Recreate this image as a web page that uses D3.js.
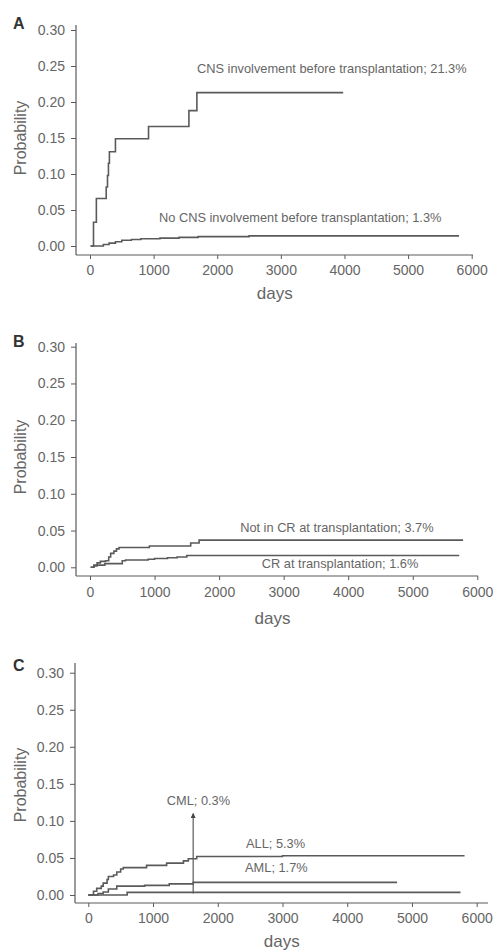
<!DOCTYPE html>
<html>
<head>
<meta charset="utf-8">
<script src="https://cdn.jsdelivr.net/npm/d3@7"></script>
<style>
  body { margin: 0; background: #fff; }
  svg { display: block; font-family: "Liberation Sans", Arial, sans-serif; }
</style>
</head>
<body>
<svg id="chart" width="495" height="951"></svg>
<script>
// ticks
var xTicks = [0, 1000, 2000, 3000, 4000, 5000, 6000];
var yTicks = [0, 0.05, 0.10, 0.15, 0.20, 0.25, 0.30];

// panel A: [days, probability], step after
var cnsBefore = [[10, 0], [55, 0.033], [100, 0.066], [255, 0.082], [275, 0.098], [290, 0.115],
  [305, 0.131], [400, 0.149], [920, 0.166], [1555, 0.188], [1680, 0.213], [3980, 0.213]];
var noCnsBefore = [[10, 0], [210, 0.002], [300, 0.004], [400, 0.006], [500, 0.008], [650, 0.009],
  [800, 0.010], [1100, 0.011], [1400, 0.012], [1700, 0.013], [2500, 0.014], [5800, 0.014]];

// panel B
var notInCR = [[10, 0], [60, 0.003], [110, 0.006], [160, 0.008], [240, 0.009], [290, 0.014],
  [320, 0.019], [370, 0.022], [410, 0.025], [450, 0.027], [920, 0.029], [1560, 0.033],
  [1690, 0.037], [5780, 0.037]];
var inCR = [[10, 0], [60, 0.002], [110, 0.003], [230, 0.005], [500, 0.009], [550, 0.010],
  [900, 0.011], [1000, 0.012], [1200, 0.013], [1350, 0.014], [1500, 0.016], [5720, 0.016]];

// panel C
var allSeries = [[0, 0], [80, 0.005], [130, 0.009], [200, 0.012], [230, 0.016], [290, 0.021],
  [310, 0.025], [390, 0.027], [440, 0.031], [500, 0.035], [540, 0.037], [900, 0.040],
  [1210, 0.043], [1470, 0.046], [1545, 0.049], [1675, 0.052], [3000, 0.053], [5800, 0.054]];
var amlSeries = [[0, 0], [150, 0.002], [230, 0.004], [310, 0.008], [440, 0.012], [870, 0.013],
  [1250, 0.015], [1620, 0.017], [4770, 0.017]];
var cmlSeries = [[0, 0], [600, 0.0035], [5750, 0.0035]];
var cmlArrow = [[1620, 0.002], [1620, 0.110]];

// labels: text, day, probability (vertical centre)
var labelsA = [["CNS involvement before transplantation; 21.3%", 1682, 0.247],
  ["No CNS involvement before transplantation; 1.3%", 1085, 0.040]];
var labelsB = [["Not in CR at transplantation; 3.7%", 2326, 0.0543],
  ["CR at transplantation; 1.6%", 2662, 0.0045]];
var labelsC = [["CML; 0.3%", 1212, 0.127], ["ALL; 5.3%", 2437, 0.0698], ["AML; 1.7%", 2422, 0.0374]];

var panels = [
  { letter: "A", series: [cnsBefore, noCnsBefore], labels: labelsA,
    x0: 90, x1: 471.7, yZero: 246, yTop: 30, axisX: 76, axisY: 255, yAxisTop: 25, xAxisEnd: 473,
    letterY: 28.5, probY: 138, daysX: 274.7, daysY: 299, tickY: 275 },
  { letter: "B", series: [notInCR, inCR], labels: labelsB,
    x0: 90, x1: 477.3, yZero: 567.3, yTop: 346.7, axisX: 76, axisY: 576, yAxisTop: 343, xAxisEnd: 478,
    letterY: 346.7, probY: 457, daysX: 272.5, daysY: 623.5, tickY: 597 },
  { letter: "C", series: [allSeries, amlSeries, cmlSeries], labels: labelsC, arrow: cmlArrow,
    x0: 88.3, x1: 476.7, yZero: 895, yTop: 672.7, axisX: 75, axisY: 903, yAxisTop: 663, xAxisEnd: 488,
    letterY: 671, probY: 785, daysX: 281.7, daysY: 947, tickY: 923 }
];

var ink = "#5a5a5a";
var textInk = "#666";
var svg = d3.select("#chart");

// arrow head points along the path direction (+x in marker space)
svg.append("defs").append("marker")
  .attr("id", "arrowHead")
  .attr("viewBox", "0 0 10 10")
  .attr("refX", 9).attr("refY", 5)
  .attr("markerWidth", 6).attr("markerHeight", 5)
  .attr("markerUnits", "userSpaceOnUse")
  .attr("orient", "auto")
  .append("path")
  .attr("d", "M0,0L10,5L0,10Z")
  .attr("fill", "#444");

panels.forEach(function(p) {
  var g = svg.append("g");
  var xScale = d3.scaleLinear().domain([0, 6000]).range([p.x0, p.x1]);
  var yScale = d3.scaleLinear().domain([0, 0.30]).range([p.yZero, p.yTop]);

  // axis lines
  g.append("line")
    .attr("x1", p.axisX).attr("x2", p.axisX)
    .attr("y1", p.yAxisTop).attr("y2", p.axisY)
    .attr("stroke", ink).attr("stroke-width", 1.2);
  g.append("line")
    .attr("x1", p.axisX).attr("x2", p.xAxisEnd)
    .attr("y1", p.axisY).attr("y2", p.axisY)
    .attr("stroke", ink).attr("stroke-width", 1.2);

  // y axis
  var yAxis = g.append("g")
    .attr("transform", "translate(" + p.axisX + ",0)")
    .call(d3.axisLeft(yScale).tickValues(yTicks).tickFormat(d3.format(".2f")).tickSize(5).tickPadding(6));
  yAxis.select(".domain").remove();

  // x axis
  var xAxis = g.append("g")
    .attr("transform", "translate(0," + p.axisY + ")")
    .call(d3.axisBottom(xScale).tickValues(xTicks).tickFormat(d3.format("d")).tickSize(4).tickPadding(6));
  xAxis.select(".domain").remove();
  xAxis.selectAll("text").attr("dy", null).attr("y", p.tickY - p.axisY);

  g.selectAll(".tick line").attr("stroke", ink).attr("stroke-width", 1);
  g.selectAll(".tick text")
    .attr("fill", textInk)
    .style("font-size", "14px")
    .style("font-family", "'Liberation Sans', Arial, sans-serif");

  // step lines
  var line = d3.line()
    .x(function(d) { return xScale(d[0]); })
    .y(function(d) { return yScale(d[1]); })
    .curve(d3.curveStepAfter);

  g.selectAll(".curve")
    .data(p.series)
    .enter()
    .append("path")
    .attr("class", "curve")
    .attr("fill", "none")
    .attr("stroke", ink)
    .attr("stroke-width", 1.6)
    .attr("d", line);

  if (p.arrow) {
    g.append("path")
      .attr("fill", "none")
      .attr("stroke", ink)
      .attr("stroke-width", 1.2)
      .attr("marker-end", "url(#arrowHead)")
      .attr("d", d3.line()
        .x(function(d) { return xScale(d[0]); })
        .y(function(d) { return yScale(d[1]); })(p.arrow));
  }

  // curve labels
  g.selectAll(".lab")
    .data(p.labels)
    .enter()
    .append("text")
    .attr("class", "lab")
    .attr("x", function(d) { return xScale(d[1]); })
    .attr("y", function(d) { return yScale(d[2]); })
    .attr("dy", "0.35em")
    .attr("fill", textInk)
    .style("font-size", "12.8px")
    .text(function(d) { return d[0]; });

  // panel letter
  g.append("text")
    .attr("x", 13).attr("y", p.letterY)
    .attr("fill", "#333")
    .style("font-size", "16px")
    .style("font-weight", "bold")
    .text(p.letter);

  // axis titles
  g.append("text")
    .attr("transform", "translate(20," + p.probY + ") rotate(-90)")
    .attr("text-anchor", "middle")
    .attr("dy", "0.35em")
    .attr("fill", textInk)
    .style("font-size", "16px")
    .text("Probability");

  g.append("text")
    .attr("x", p.daysX).attr("y", p.daysY)
    .attr("text-anchor", "middle")
    .attr("fill", textInk)
    .style("font-size", "17px")
    .text("days");
});
</script>
</body>
</html>
